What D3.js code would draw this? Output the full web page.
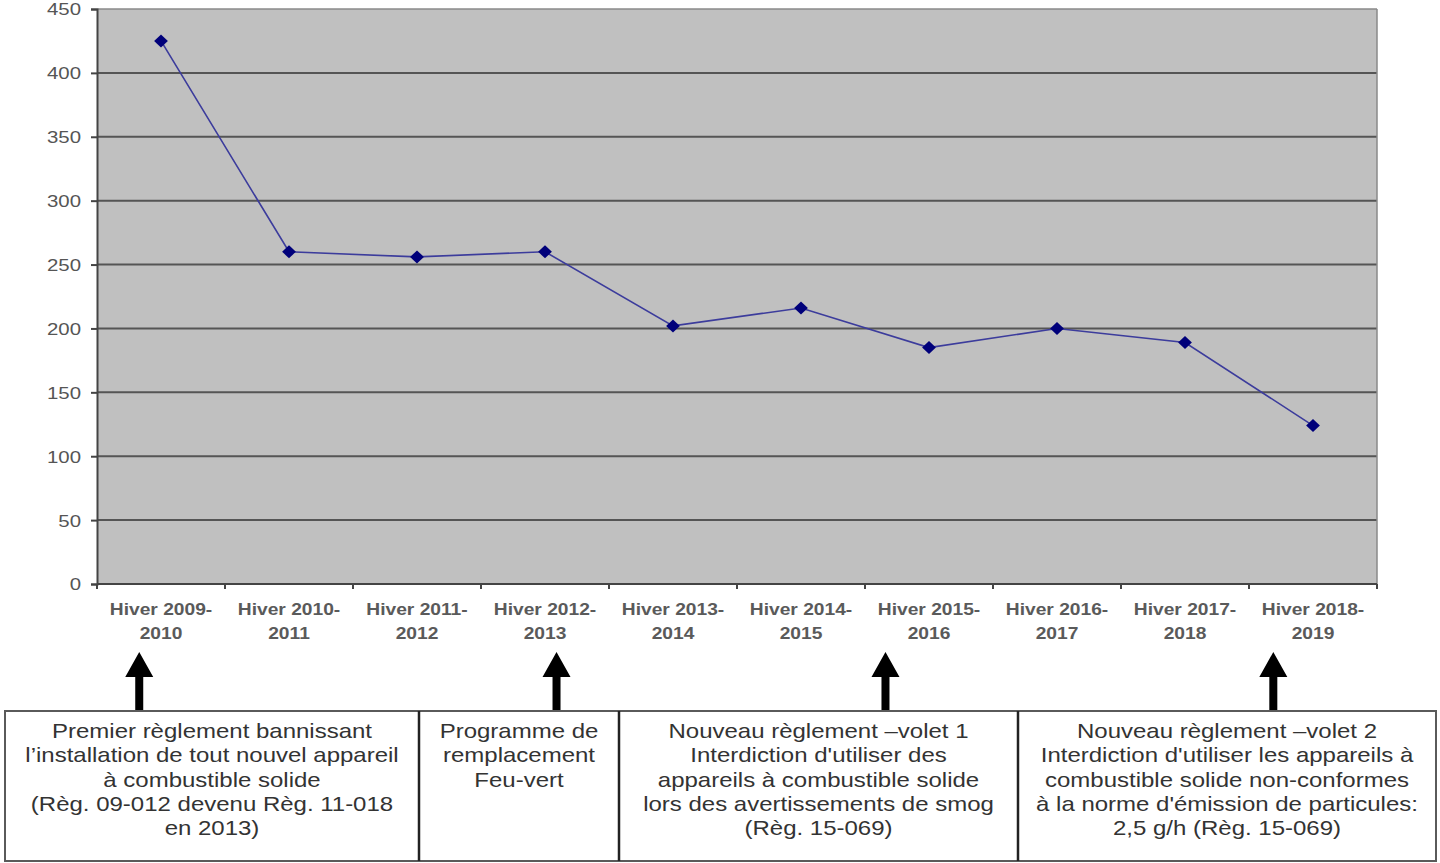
<!DOCTYPE html>
<html>
<head>
<meta charset="utf-8">
<script src="https://cdn.jsdelivr.net/npm/d3@7"></script>
<style>
  html, body { margin: 0; padding: 0; background: #fff; }
  svg { display: block; }
</style>
</head>
<body>
<svg id="chart" width="1440" height="863"></svg>
<script>
// ---- data ----
const categories = [
  ["Hiver 2009-", "2010"], ["Hiver 2010-", "2011"], ["Hiver 2011-", "2012"],
  ["Hiver 2012-", "2013"], ["Hiver 2013-", "2014"], ["Hiver 2014-", "2015"],
  ["Hiver 2015-", "2016"], ["Hiver 2016-", "2017"], ["Hiver 2017-", "2018"],
  ["Hiver 2018-", "2019"]
];
const values = [425, 260, 256, 260, 202, 216, 185, 200, 189, 124];
const yTicks = [0, 50, 100, 150, 200, 250, 300, 350, 400, 450];
// arrow positions expressed in category-index units
const arrowPositions = [-0.17, 3.09, 5.66, 8.69];
const boxTexts = [
  ["Premier règlement bannissant", "l’installation de tout nouvel appareil", "à combustible solide", "(Règ. 09-012 devenu Règ. 11-018", "en 2013)"],
  ["Programme de", "remplacement", "Feu-vert"],
  ["Nouveau règlement –volet 1", "Interdiction d'utiliser des", "appareils à combustible solide", "lors des avertissements de smog", "(Règ. 15-069)"],
  ["Nouveau règlement –volet 2", "Interdiction d'utiliser les appareils à", "combustible solide non-conformes", "à la norme d'émission de particules:", "2,5 g/h (Règ. 15-069)"]
];

// ---- layout ----
const svg = d3.select("#chart");
const plot = { left: 97, right: 1377, top: 9, bottom: 584 };
const SX = 1.2; // horizontal stretch of text as in reference
const FONT = "'Liberation Sans', Arial, sans-serif";

const x = d3.scaleBand().domain(d3.range(categories.length)).range([plot.left, plot.right]);
const xIdx = d3.scaleLinear().domain([0, 1]).range([plot.left + x.bandwidth() / 2, plot.left + x.bandwidth() * 1.5]);
const y = d3.scaleLinear().domain([0, 450]).range([plot.bottom, plot.top]);

// background
svg.append("rect")
  .attr("x", plot.left).attr("y", plot.top)
  .attr("width", plot.right - plot.left).attr("height", plot.bottom - plot.top)
  .attr("fill", "#c0c0c0");

// gridlines
svg.append("g").selectAll("line").data(yTicks.filter(d => d > 0 && d < 450)).join("line")
  .attr("x1", plot.left).attr("x2", plot.right)
  .attr("y1", d => y(d)).attr("y2", d => y(d))
  .attr("stroke", "#555").attr("stroke-width", 2);

// top & right border
svg.append("line").attr("x1", plot.left).attr("x2", plot.right)
  .attr("y1", y(450)).attr("y2", y(450)).attr("stroke", "#8a8a8a").attr("stroke-width", 1.5);
svg.append("line").attr("x1", plot.right).attr("x2", plot.right)
  .attr("y1", plot.top).attr("y2", plot.bottom).attr("stroke", "#8a8a8a").attr("stroke-width", 1.5);

// y axis
const yAxis = svg.append("g").attr("transform", `translate(${plot.left},0)`)
  .call(d3.axisLeft(y).tickValues(yTicks).tickSize(6).tickPadding(10).tickFormat(d3.format("d")));
yAxis.select(".domain").attr("stroke", "#444").attr("stroke-width", 2);
yAxis.selectAll(".tick line").attr("stroke", "#444").attr("stroke-width", 2);
yAxis.selectAll(".tick text")
  .attr("font-family", FONT).attr("font-size", 17).attr("fill", "#555")
  .attr("dy", "0.35em")
  .attr("transform", function () {
    const tx = +d3.select(this).attr("x");
    d3.select(this).attr("x", 0);
    return `translate(${tx},0) scale(${SX},1)`;
  });

// x axis
const xAxis = svg.append("g").attr("transform", `translate(0,${plot.bottom})`);
xAxis.append("line").attr("x1", plot.left).attr("x2", plot.right)
  .attr("stroke", "#444").attr("stroke-width", 2);
const boundaries = d3.range(categories.length + 1).map(i => plot.left + i * x.bandwidth());
xAxis.selectAll(".xt").data(boundaries).join("line")
  .attr("class", "xt")
  .attr("x1", d => d).attr("x2", d => d).attr("y1", 0).attr("y2", 5)
  .attr("stroke", "#444").attr("stroke-width", 2);

const xl = svg.append("g");
categories.forEach((c, i) => {
  c.forEach((line, j) => {
    xl.append("text")
      .attr("transform", `translate(${x(i) + x.bandwidth() / 2},${615 + j * 24}) scale(${SX},1)`)
      .attr("text-anchor", "middle")
      .attr("font-family", FONT).attr("font-size", 16).attr("font-weight", "bold")
      .attr("fill", "#5a5a5a")
      .text(line);
  });
});

// line
svg.append("path")
  .datum(values)
  .attr("fill", "none")
  .attr("stroke", "#3c3c9c").attr("stroke-width", 1.6)
  .attr("d", d3.line().x((d, i) => x(i) + x.bandwidth() / 2).y(d => y(d)));

// markers
svg.append("g").selectAll("path").data(values).join("path")
  .attr("transform", (d, i) => `translate(${x(i) + x.bandwidth() / 2},${y(d)}) scale(1.15,1)`)
  .attr("d", "M0,-6.5L6,0L0,6.5L-6,0Z")
  .attr("fill", "#00007a");

// arrows
const arrowG = svg.append("g");
arrowPositions.forEach(p => {
  const cx = xIdx(p);
  arrowG.append("path")
    .attr("d", `M${cx},652 L${cx + 14},677 L${cx + 4},677 L${cx + 4},711 L${cx - 4},711 L${cx - 4},677 L${cx - 14},677 Z`)
    .attr("fill", "#000");
});

// boxes
const boxEdges = [5, 419, 619, 1018, 1436];
const boxTop = 711, boxBottom = 861;
const bg = svg.append("g");
bg.append("rect").attr("x", boxEdges[0]).attr("y", boxTop)
  .attr("width", boxEdges[4] - boxEdges[0]).attr("height", boxBottom - boxTop)
  .attr("fill", "#fff").attr("stroke", "#5a5a5a").attr("stroke-width", 2);
boxEdges.slice(1, 4).forEach(e => {
  bg.append("line").attr("x1", e).attr("x2", e).attr("y1", boxTop).attr("y2", boxBottom)
    .attr("stroke", "#222").attr("stroke-width", 2.5);
});
boxTexts.forEach((lines, b) => {
  const cx = (boxEdges[b] + boxEdges[b + 1]) / 2;
  lines.forEach((t, j) => {
    bg.append("text")
      .attr("transform", `translate(${cx},${738 + j * 24.3}) scale(${SX},1)`)
      .attr("text-anchor", "middle")
      .attr("font-family", FONT).attr("font-size", 20)
      .attr("fill", "#333")
      .text(t);
  });
});
</script>
</body>
</html>
